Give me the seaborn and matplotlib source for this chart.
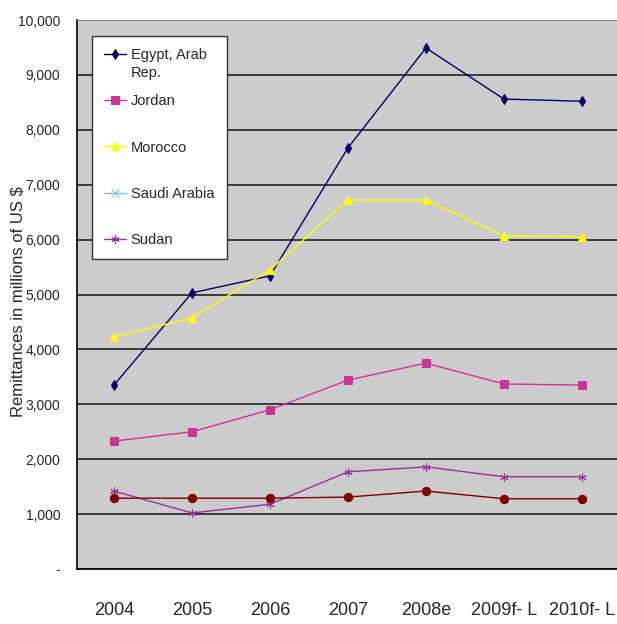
import matplotlib
matplotlib.use('agg')
import matplotlib.pyplot as plt
import matplotlib.ticker as mticker
import seaborn as sns
import numpy as np
import pandas as pd

years = ['2004', '2005', '2006', '2007', '2008e', '2009f- L', '2010f- L']

egypt = [3350, 5030, 5340, 7670, 9490, 8560, 8520]
jordan = [2330, 2500, 2900, 3440, 3750, 3370, 3350]
morocco = [4230, 4570, 5450, 6720, 6720, 6070, 6050]
saudi = [np.nan] * 7
sudan = [1420, 1020, 1180, 1770, 1860, 1680, 1680]
yemen = [1290, 1290, 1290, 1310, 1420, 1280, 1280]

y_ticks = [0, 1000, 2000, 3000, 4000, 5000, 6000, 7000, 8000, 9000, 10000]

FONT = ['Liberation Sans', 'DejaVu Sans']

# name, values, colour, marker, marker size, shown in legend
SERIES = [
    ('Egypt, Arab', egypt, '#000066', 'd', 5, True),
    ('Jordan', jordan, '#cc3399', 's', 6, True),
    ('Morocco', morocco, '#ffff00', '^', 6, True),
    ('Saudi Arabia', saudi, '#66ccee', 'x', 6, True),
    ('Sudan', sudan, '#993399', (6, 2, 0), 6, True),
    ('Yemen, Rep.', yemen, '#800000', 'o', 6, False),
]

sns.set_style('white')
plt.rcParams['font.family'] = FONT

fig = plt.figure(figsize=(6.17, 6.24), dpi=100)
ax = fig.add_axes([77 / 617, 55 / 624, 540 / 617, 549 / 624])
ax.set_facecolor('#cccccc')

x = np.arange(len(years))
for name, vals, color, marker, ms, show in SERIES:
    df = pd.DataFrame({'x': x, 'y': vals})
    sns.lineplot(data=df, x='x', y='y', color=color, marker=marker, markersize=ms,
                 markeredgecolor=color, markerfacecolor=color, linewidth=1.0,
                 ax=ax, label=name if show else '_nolegend_')

ax.set_xlim(-0.474, 6.45)
ax.set_ylim(0, 10000)
ax.set_yticks(y_ticks)
ax.yaxis.set_major_formatter(mticker.FuncFormatter(
    lambda v, p: '-' if v == 0 else f'{int(v):,}'))
ax.grid(axis='y', color='#222222', linewidth=1.2)
ax.set_axisbelow(True)

ax.set_xticks(x)
ax.set_xticklabels(years, fontsize=13)
ax.tick_params(axis='x', length=0, pad=24)
ax.set_xticks(x[:-1] + 0.5, minor=True)
ax.tick_params(axis='x', which='minor', direction='in', length=10, width=1, color='#333333')
ax.tick_params(axis='y', length=0, labelsize=10, pad=12)

for s in ['left', 'bottom']:
    ax.spines[s].set_color('black')
    ax.spines[s].set_linewidth(1.2)
ax.spines['top'].set_color('#888888')
ax.spines['right'].set_visible(False)

ax.set_xlabel('')
ax.set_ylabel('')
fig.text(18 / 617, 1 - 302 / 624, 'Remittances in millions of US $', rotation=90,
         ha='center', va='center', fontsize=12)

leg = ax.legend(loc='upper left', bbox_to_anchor=(92 / 617, 1 - 36 / 624),
                bbox_transform=fig.transFigure, frameon=True, fancybox=False,
                fontsize=10.5, labelspacing=2.2, handlelength=1.5, handletextpad=0.3,
                borderpad=0.85, borderaxespad=0)
leg.get_frame().set_edgecolor('#333333')
leg.get_frame().set_facecolor('white')
leg.get_frame().set_alpha(1)

# second line of the Egypt label sits under the first one
fig.canvas.draw()
bb = leg.get_texts()[0].get_window_extent()
fig.text(bb.x0 / 617, (bb.y0 - 4) / 624, 'Rep.', ha='left', va='top', fontsize=10.5)

fig.savefig('out.png', dpi=100)
